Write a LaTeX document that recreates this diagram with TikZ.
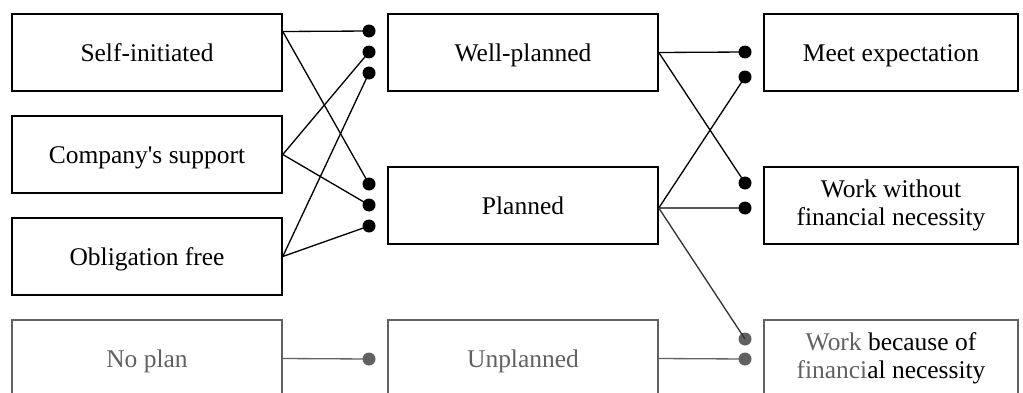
\documentclass[tikz,border=0pt]{standalone}
\usepackage{fontspec}
\setmainfont{Liberation Serif}
\colorlet{lowgray}{black!62}
\tikzset{
  stage/.style={draw, line width=0.9pt, minimum height=1.54cm, inner sep=0pt, align=center, font=\fontsize{14.5}{16}\selectfont},
  oneline/.style={text height=13.6pt, text depth=3pt},
  leftbox/.style={stage, oneline, minimum width=5.4cm},
  rightbox/.style={stage, minimum width=5.08cm},
  dot/.style={circle, fill=black, inner sep=0pt, minimum size=0.26cm},
  link/.style={-, line width=0.75pt}
}
\begin{document}
\begin{tikzpicture}[x=0.02cm, y=-0.02cm]
				\clip (0,0) rectangle (1023,392);
				% first column
				\node[leftbox] (si) at (147,52.5) {Self-initiated};
				\node[leftbox] (cs) at (147,154.5) {Company\textquotesingle s support};
				\node[leftbox] (of) at (147,256.5) {Obligation free};
				\node[leftbox, draw=lowgray, text=lowgray] (np) at (147,358.5) {No plan};
				% second column
				\node[leftbox] (wp) at (523,52.5) {Well-planned};
				\node[leftbox] (pl) at (523,205.5) {Planned};
				\node[leftbox, draw=lowgray, text=lowgray] (up) at (523,358.5) {Unplanned};
				% third column
				\node[rightbox, oneline] (me) at (891,52.5) {Meet expectation};
				\node[rightbox] (ww) at (891,205.5) {Work without\\financial necessity};
				\node[rightbox, draw=lowgray] (wb) at (891,358.5) {{\color{lowgray}Work} because of\\{\color{lowgray}financi}al necessity};
				% dots in front of the second column
				\node[dot] (wpa) at (369,31) {};
				\node[dot] (wpb) at (369,52) {};
				\node[dot] (wpc) at (369,73) {};
				\node[dot] (pla) at (369,184) {};
				\node[dot] (plb) at (369,205) {};
				\node[dot] (plc) at (369,226) {};
				\node[dot, fill=lowgray] (upa) at (369,359) {};
				% dots in front of the third column
				\node[dot] (mea) at (745,52) {};
				\node[dot] (meb) at (745,77) {};
				\node[dot] (wwa) at (745,183) {};
				\node[dot] (wwb) at (745,208) {};
				\node[dot, fill=lowgray] (wba) at (745,339) {};
				\node[dot, fill=lowgray] (wbb) at (745,359) {};
				% connectors
				\draw[link] ([yshift=0.42cm]si.east)--(wpa.center);
				\draw[link] ([yshift=0.42cm]si.east)--(pla.center);
				\draw[link] (cs.east)--(wpb.center);
				\draw[link] (cs.east)--(plb.center);
				\draw[link] (of.east)--(wpc.center);
				\draw[link] (of.east)--(plc.center);
				\draw[link, lowgray] (np.east)--(upa.center);
				\draw[link] (wp.east)--(mea.center);
				\draw[link] (wp.east)--(wwa.center);
				\draw[link] ([yshift=-0.05cm]pl.east)--(meb.center);
				\draw[link] ([yshift=-0.05cm]pl.east)--(wwb.center);
				\draw[link, black!80] ([yshift=-0.05cm]pl.east)--(wba.center);
				\draw[link, lowgray] (up.east)--(wbb.center);
			\end{tikzpicture}
\end{document}
